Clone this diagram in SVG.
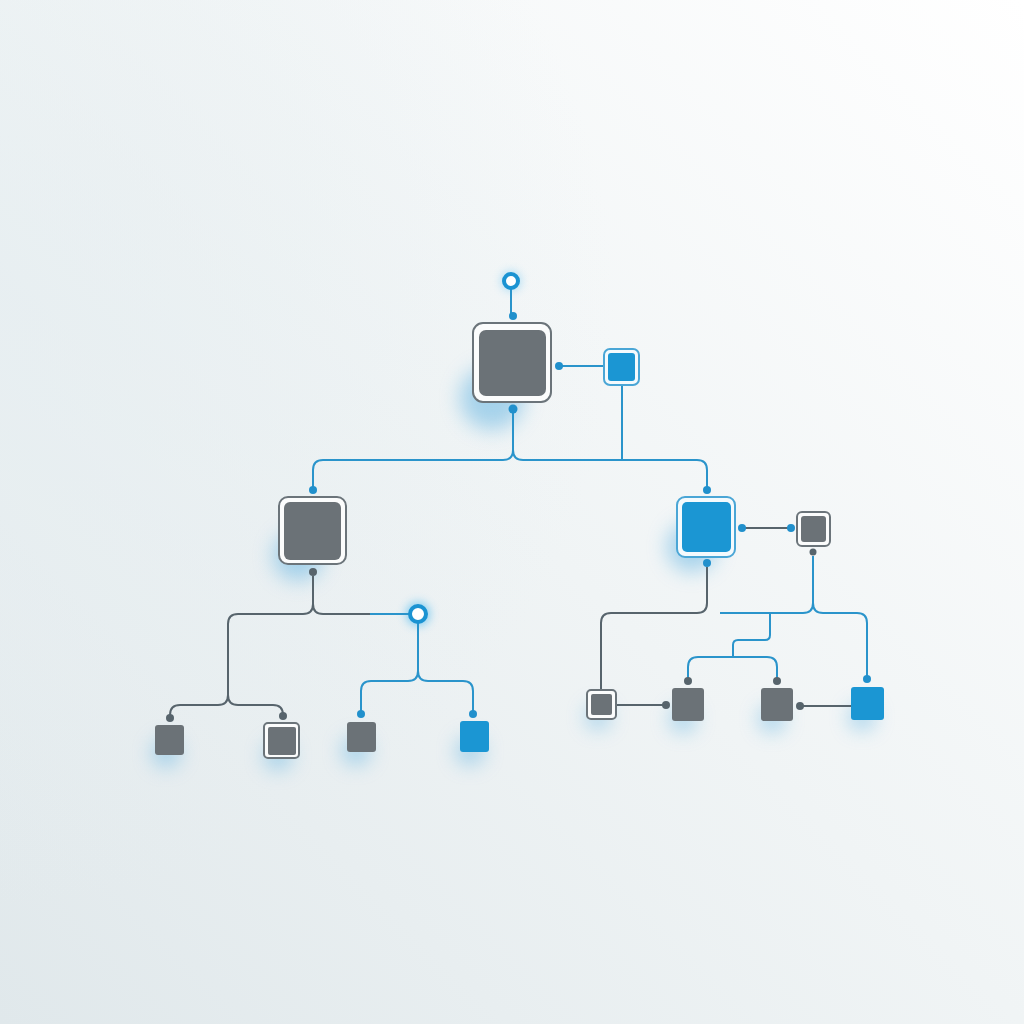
<svg xmlns="http://www.w3.org/2000/svg" width="1024" height="1024" viewBox="0 0 1024 1024">
<defs>
<linearGradient id="bg" x1="1" y1="0" x2="0" y2="1">
<stop offset="0" stop-color="#ffffff"/>
<stop offset="0.5" stop-color="#f0f4f5"/>
<stop offset="1" stop-color="#e0e8eb"/>
</linearGradient>
<radialGradient id="tl" cx="0" cy="0.3" r="0.6">
<stop offset="0" stop-color="#e6eef1" stop-opacity="0.7"/>
<stop offset="1" stop-color="#e6eef1" stop-opacity="0"/>
</radialGradient>
<filter id="blur" x="-1" y="-1" width="3" height="3"><feGaussianBlur stdDeviation="10"/></filter>
<filter id="blurS" x="-1" y="-1" width="3" height="3"><feGaussianBlur stdDeviation="5"/></filter>
<style>
.frame{fill:#fbfcfc;stroke:#6b747a;stroke-width:2}
.frameB{fill:#f4fafd;stroke:#4aa6d6;stroke-width:2}
.gray{fill:#6b7277}
.blue{fill:#1b96d3}
.lg{fill:none;stroke:#57646c;stroke-width:2}
.lb{fill:none;stroke:#2a94cb;stroke-width:2}
.dg{fill:#57646c}
.db{fill:#2190cc}
.glow{fill:#74bce4;opacity:0.6;filter:url(#blur)}
.ring{fill:#ffffff;stroke:#1b93d2;stroke-width:4}
</style>
</defs>
<rect width="1024" height="1024" fill="url(#bg)"/>
<rect width="1024" height="1024" fill="url(#tl)"/>

<g id="glows">
<circle class="glow" cx="492" cy="398" r="32"/>
<circle class="glow" cx="298" cy="556" r="25"/>
<circle class="glow" cx="692" cy="547" r="25"/>
<circle class="glow" cx="166" cy="753" r="14"/>
<circle class="glow" cx="278" cy="756" r="14"/>
<circle class="glow" cx="356" cy="751" r="14"/>
<circle class="glow" cx="470" cy="751" r="14"/>
<circle class="glow" cx="598" cy="717" r="12"/>
<circle class="glow" cx="683" cy="719" r="13"/>
<circle class="glow" cx="772" cy="719" r="13"/>
<circle class="glow" cx="862" cy="717" r="13"/>
<circle fill="#3fb6f0" opacity="0.6" filter="url(#blurS)" cx="418" cy="614" r="12"/>
<circle fill="#3fb6f0" opacity="0.4" filter="url(#blurS)" cx="511" cy="281" r="10"/>
</g>

<g id="connectors">
<path class="lb" d="M511,288 V316"/>
<path class="lb" d="M559,366 H604"/>
<path class="lb" d="M513,413 V450 Q513,460 503,460 H323 Q313,460 313,470 V488"/>
<path class="lb" d="M513,450 Q513,460 523,460 H697 Q707,460 707,470 V488"/>
<path class="lb" d="M622,385 V460"/>
<path class="lg" d="M313,576 V604 Q313,614 303,614 H238 Q228,614 228,624 V695 Q228,705 218,705 H180 Q170,705 170,715"/>
<path class="lg" d="M228,695 Q228,705 238,705 H273 Q283,705 283,715"/>
<path class="lg" d="M313,604 Q313,614 323,614 H370"/>
<path class="lb" d="M370,614 H411"/>
<path class="lb" d="M418,622 V671 Q418,681 408,681 H371 Q361,681 361,691 V712"/>
<path class="lb" d="M418,671 Q418,681 428,681 H463 Q473,681 473,691 V712"/>
<path class="lg" d="M707,567 V603 Q707,613 697,613 H611 Q601,613 601,623 V694"/>
<path class="lg" d="M742,528 H791"/>
<path class="lb" d="M813,556 V603 Q813,613 803,613 H720"/>
<path class="lb" d="M813,603 Q813,613 823,613 H857 Q867,613 867,623 V677"/>
<path class="lb" d="M770,613 V635 Q770,640 765,640 H738 Q733,640 733,645 V657"/>
<path class="lb" d="M698,657 H767 Q777,657 777,667 V679"/>
<path class="lb" d="M698,657 Q688,657 688,667 V679"/>
<path class="lg" d="M612,705 H666"/>
<path class="lg" d="M800,706 H851"/>
<circle class="db" cx="513" cy="316" r="4"/>
<circle class="db" cx="513" cy="409" r="4.5"/>
<circle class="db" cx="559" cy="366" r="4"/>
<circle class="db" cx="313" cy="490" r="4"/>
<circle class="db" cx="707" cy="490" r="4"/>
<circle class="dg" cx="313" cy="572" r="4"/>
<circle class="db" cx="707" cy="563" r="4"/>
<circle class="db" cx="742" cy="528" r="4"/>
<circle class="db" cx="791" cy="528" r="4"/>
<circle class="dg" cx="813" cy="552" r="3.5"/>
<circle class="dg" cx="170" cy="718" r="4"/>
<circle class="dg" cx="283" cy="716" r="4"/>
<circle class="db" cx="361" cy="714" r="4"/>
<circle class="db" cx="473" cy="714" r="4"/>
<circle class="dg" cx="688" cy="681" r="4"/>
<circle class="dg" cx="777" cy="681" r="4"/>
<circle class="db" cx="867" cy="679" r="4"/>
<circle class="dg" cx="666" cy="705" r="4"/>
<circle class="dg" cx="800" cy="706" r="4"/>
</g>

<g id="top-ring"><circle class="ring" cx="511" cy="281" r="7"/></g>
<g id="mid-ring"><circle class="ring" cx="418" cy="614" r="8"/></g>

<g id="root">
<rect class="frame" x="473" y="323" width="78" height="79" rx="10"/>
<rect class="gray" x="479" y="330" width="67" height="66" rx="7"/>
</g>
<g id="root-side">
<rect class="frameB" x="604" y="349" width="35" height="36" rx="6"/>
<rect class="blue" x="608" y="353" width="27" height="28" rx="3"/>
</g>
<g id="left">
<rect class="frame" x="279" y="497" width="67" height="67" rx="9"/>
<rect class="gray" x="284" y="502" width="57" height="58" rx="6"/>
</g>
<g id="right">
<rect class="frameB" x="677" y="497" width="58" height="60" rx="8"/>
<rect class="blue" x="682" y="502" width="49" height="50" rx="5"/>
</g>
<g id="right-side">
<rect class="frame" x="797" y="512" width="33" height="34" rx="5"/>
<rect class="gray" x="801" y="516" width="25" height="26" rx="3"/>
</g>
<g id="ll1"><rect class="gray" x="155" y="725" width="29" height="30" rx="3"/></g>
<g id="ll2">
<rect class="frame" x="264" y="723" width="35" height="35" rx="4"/>
<rect class="gray" x="268" y="727" width="28" height="28" rx="2"/>
</g>
<g id="lr1"><rect class="gray" x="347" y="722" width="29" height="30" rx="3"/></g>
<g id="lr2"><rect class="blue" x="460" y="721" width="29" height="31" rx="3"/></g>
<g id="rl1">
<rect class="frame" x="587" y="690" width="29" height="29" rx="4"/>
<rect class="gray" x="591" y="694" width="21" height="21" rx="2"/>
</g>
<g id="rl2"><rect class="gray" x="672" y="688" width="32" height="33" rx="3"/></g>
<g id="rl3"><rect class="gray" x="761" y="688" width="32" height="33" rx="3"/></g>
<g id="rl4"><rect class="blue" x="851" y="687" width="33" height="33" rx="3"/></g>
</svg>
